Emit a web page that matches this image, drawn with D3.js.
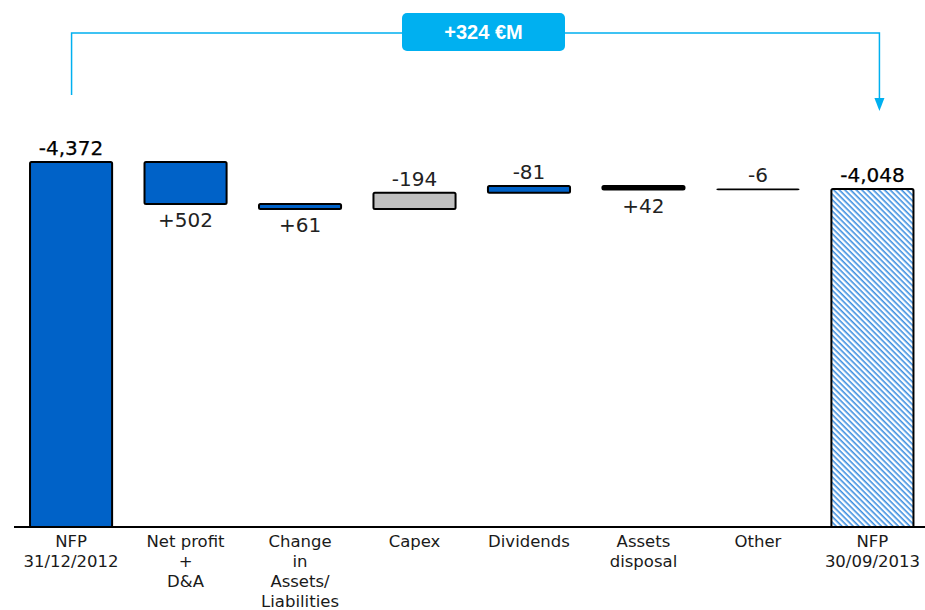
<!DOCTYPE html>
<html lang="en">
<head>
    <meta charset="UTF-8">
    <title>NFP Bridge</title>
    <script src="https://d3js.org/d3.v7.min.js"></script>
    <style>
        body { margin: 0; background: #fff; }
    </style>
</head>
<body>
    <svg id="chart" width="925" height="610"></svg>

    <script>
        // Chart data
        const categories = ["NFP|31/12/2012", "Net profit|+|D&A", "Change|in|Assets/|Liabilities", "Capex",
                            "Dividends", "Assets|disposal", "Other", "NFP|30/09/2013"];
        const values = [-4372, 502, 61, -194, -81, 42, -6, -4048];
        const valueLabels = ["-4,372", "+502", "+61", "-194", "-81", "+42", "-6", "-4,048"];
        const kinds = ["total", "delta", "delta", "delta", "delta", "delta", "delta", "total"];
        const fills = ["blue", "blue", "blue", "grey", "blue", "black", "blue", "hatch"];
        const bridgeLabel = "+324 €M";

        const width = 925;
        const baseY = 527;

        const svg = d3.select("#chart");

        // hatch pattern for closing bar
        const defs = svg.append("defs");
        const pat = defs.append("pattern")
            .attr("id", "hatch")
            .attr("patternUnits", "userSpaceOnUse")
            .attr("width", 4).attr("height", 4)
            .attr("patternTransform", "rotate(45)");
        pat.append("rect").attr("width", 4).attr("height", 4).attr("fill", "#ffffff");
        pat.append("rect").attr("width", 4).attr("height", 1.6).attr("fill", "#3d8fe0");

        const colorMap = { blue: "#0062c8", grey: "#c0c0c0", black: "#000", hatch: "url(#hatch)" };

        // running debt level (debt shown as positive height)
        let level = 0;
        const bars = values.map((v, i) => {
            if (kinds[i] === "total") {
                level = -v;
                return { y0: 0, y1: -v, i };
            }
            const start = level;
            level = level - v;
            return { y0: start, y1: level, i, up: v < 0 };
        });

        const x = d3.scaleBand()
            .domain(categories)
            .range([14, 929.5])
            .paddingInner(0.283)
            .paddingOuter(0.14);

        const y = d3.scaleLinear()
            .domain([0, 4372])
            .range([baseY, 162]);

        // bars
        svg.append("g").selectAll("rect")
            .data(bars)
            .enter()
            .append("rect")
            .attr("x", d => x(categories[d.i]))
            .attr("width", x.bandwidth())
            .attr("y", d => y(Math.max(d.y0, d.y1)))
            .attr("height", d => Math.max(0.5, Math.abs(y(d.y0) - y(d.y1))))
            .attr("rx", 1.5)
            .attr("fill", d => colorMap[fills[d.i]])
            .attr("stroke", "#000")
            .attr("stroke-width", d => Math.abs(y(d.y0) - y(d.y1)) < 1 ? 1.2 : 2);

        // baseline
        svg.append("line")
            .attr("x1", 14).attr("x2", width)
            .attr("y1", baseY).attr("y2", baseY)
            .attr("stroke", "#000")
            .attr("stroke-width", 2);

        // value labels
        svg.append("g").selectAll("text")
            .data(bars)
            .enter()
            .append("text")
            .attr("x", d => x(categories[d.i]) + x.bandwidth() / 2)
            .attr("y", d => {
                const top = y(Math.max(d.y0, d.y1));
                const bottom = y(Math.min(d.y0, d.y1));
                if (kinds[d.i] === "total" || d.up) return top - 7;
                return bottom + 23;
            })
            .attr("text-anchor", "middle")
            .attr("font-family", "DejaVu Sans, Verdana, sans-serif")
            .attr("font-size", "20px")
            .attr("fill", d => kinds[d.i] === "total" ? "#000" : "#222")
            .attr("stroke", d => kinds[d.i] === "total" ? "#000" : "none")
            .attr("stroke-width", 0.25)
            .text(d => valueLabels[d.i]);

        // category labels
        const catG = svg.append("g");
        categories.forEach(c => {
            const t = catG.append("text")
                .attr("text-anchor", "middle")
                .attr("font-family", "DejaVu Sans, Verdana, sans-serif")
                .attr("font-size", "16.5px")
                .attr("fill", "#1a1a1a");
            c.split("|").forEach((line, j) => {
                t.append("tspan")
                    .attr("x", x(c) + x.bandwidth() / 2)
                    .attr("y", 547 + j * 20)
                    .text(line);
            });
        });

        // bridge arrow between the two totals
        const cyan = "#00b0f0";
        const xl = x(categories[0]) + x.bandwidth() / 2 + 0.5;
        const xr = x(categories[categories.length - 1]) + x.bandwidth() / 2 + 7;
        const bridgeY = 33;
        svg.append("path")
            .attr("d", `M${xl},95 V${bridgeY} H${xr} V101`)
            .attr("fill", "none")
            .attr("stroke", cyan)
            .attr("stroke-width", 1.5);
        svg.append("path")
            .attr("d", `M${xr - 5},98 L${xr + 5},98 L${xr},111 Z`)
            .attr("fill", cyan);

        const boxW = 163, boxH = 38;
        const boxCx = 483.5;
        svg.append("rect")
            .attr("x", boxCx - boxW / 2)
            .attr("y", 13)
            .attr("width", boxW)
            .attr("height", boxH)
            .attr("rx", 5)
            .attr("fill", cyan);
        svg.append("text")
            .attr("x", boxCx)
            .attr("y", 39)
            .attr("text-anchor", "middle")
            .attr("font-family", "Liberation Sans Narrow, Liberation Sans, Arial, sans-serif")
            .attr("font-weight", "bold")
            .attr("font-size", "20px")
            .attr("fill", "#fff")
            .text(bridgeLabel);
    </script>
</body>
</html>
